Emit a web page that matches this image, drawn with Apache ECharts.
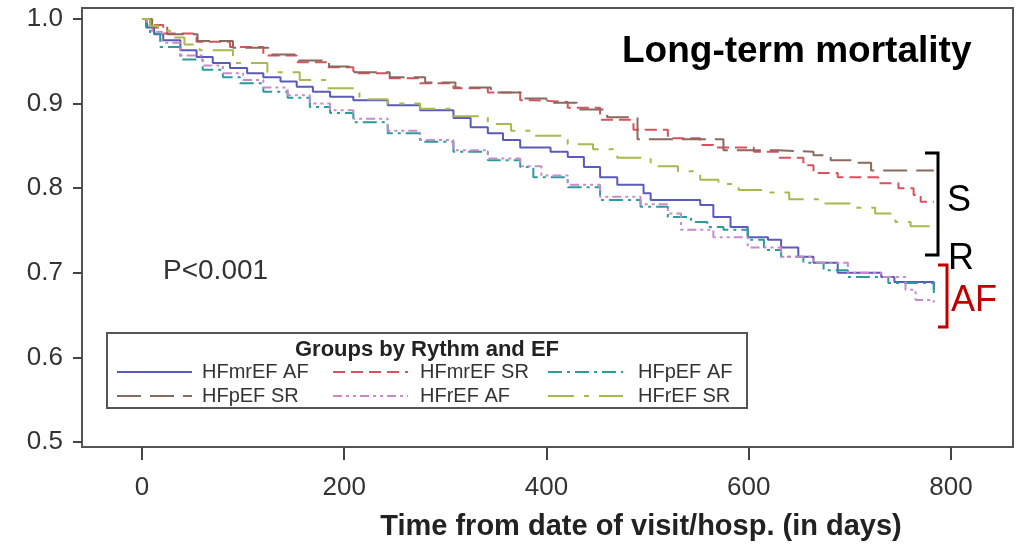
<!DOCTYPE html>
<html>
<head>
<meta charset="utf-8">
<script src="https://cdn.jsdelivr.net/npm/echarts@6/dist/echarts.min.js"></script>
<style>html,body{margin:0;padding:0;background:#fff;}#c{width:1025px;height:548px;}</style>
</head>
<body>
<div id="c"></div>
<script>
// ---- data (time in days, survival probability) ----
const xTicks = [0, 200, 400, 600, 800];
const yTicks = [0.5, 0.6, 0.7, 0.8, 0.9, 1.0];
const seriesNames = ['HFmrEF AF', 'HFmrEF SR', 'HFpEF AF', 'HFpEF SR', 'HFrEF AF', 'HFrEF SR'];

const hfmrefAF = [[0,1.0],[5,0.99],[12,0.982],[21,0.975],[38,0.963],[54,0.955],[70,0.948],[87,0.942],[104,0.936],[120,0.931],[137,0.926],[153,0.920],[169,0.914],[186,0.908],[209,0.904],[243,0.898],[275,0.892],[308,0.883],[325,0.872],[342,0.865],[357,0.857],[374,0.848],[404,0.843],[421,0.837],[437,0.825],[453,0.813],[470,0.804],[496,0.794],[503,0.786],[552,0.780],[565,0.766],[582,0.754],[599,0.742],[619,0.739],[632,0.730],[649,0.719],[664,0.712],[688,0.700],[731,0.695],[744,0.689],[783,0.680]];
const hfmrefSR = [[0,1.0],[8,0.993],[21,0.983],[54,0.973],[87,0.967],[120,0.957],[153,0.949],[183,0.943],[209,0.936],[243,0.930],[275,0.924],[308,0.918],[342,0.913],[374,0.904],[387,0.902],[421,0.895],[453,0.881],[486,0.869],[520,0.859],[552,0.851],[565,0.848],[605,0.843],[629,0.836],[654,0.827],[664,0.818],[688,0.813],[728,0.806],[748,0.800],[763,0.792],[770,0.784],[783,0.784]];
const hfpefAF = [[0,1.0],[4,0.99],[8,0.983],[18,0.967],[38,0.952],[60,0.940],[80,0.931],[97,0.924],[120,0.914],[144,0.907],[166,0.896],[186,0.889],[209,0.878],[243,0.865],[275,0.855],[308,0.843],[342,0.833],[374,0.825],[387,0.813],[421,0.801],[453,0.786],[493,0.778],[520,0.766],[543,0.760],[559,0.754],[575,0.751],[599,0.739],[615,0.727],[632,0.719],[654,0.712],[674,0.703],[698,0.695],[738,0.688],[783,0.676]];
const hfpefSR = [[0,1.0],[10,0.990],[25,0.982],[55,0.974],[90,0.966],[125,0.958],[155,0.951],[185,0.944],[210,0.937],[245,0.931],[280,0.925],[310,0.919],[345,0.913],[375,0.906],[400,0.901],[430,0.893],[460,0.884],[490,0.858],[575,0.845],[629,0.843],[664,0.839],[681,0.833],[708,0.830],[721,0.821],[783,0.821]];
const hfrefAF = [[0,1.0],[5,0.992],[10,0.985],[20,0.972],[38,0.957],[60,0.945],[80,0.936],[100,0.928],[120,0.919],[144,0.910],[166,0.900],[186,0.892],[209,0.882],[243,0.868],[275,0.857],[308,0.845],[342,0.835],[374,0.826],[395,0.815],[421,0.804],[453,0.790],[493,0.781],[520,0.770],[533,0.751],[565,0.742],[599,0.730],[632,0.719],[664,0.712],[698,0.700],[731,0.695],[755,0.680],[765,0.668],[783,0.665]];
const hfrefSR = [[0,1.0],[8,0.992],[16,0.986],[28,0.978],[42,0.970],[57,0.963],[90,0.948],[124,0.937],[156,0.928],[183,0.918],[215,0.905],[243,0.900],[275,0.894],[308,0.885],[342,0.876],[365,0.868],[387,0.862],[421,0.852],[446,0.846],[470,0.836],[503,0.826],[530,0.820],[552,0.810],[570,0.805],[590,0.798],[615,0.795],[640,0.787],[670,0.782],[700,0.777],[725,0.770],[745,0.760],[760,0.755],[783,0.748]];

const seriesData = [hfmrefAF, hfmrefSR, hfpefAF, hfpefSR, hfrefAF, hfrefSR];
const seriesColors = ['#5a5ab8', '#d9505e', '#2a9c9c', '#8a6a5c', '#c98ac9', '#a8b84e'];
const seriesDash = ['solid', [12, 6], [14, 5, 3, 5], [24, 9], [9, 4, 3, 4, 3, 4], [26, 10, 5, 10]];

const chart = echarts.init(document.getElementById('c'), null, {renderer: 'canvas'});

const FONT = '"Liberation Sans", Arial, sans-serif';
const legendCols = [[117, 202], [333, 420], [548, 638]];
const legendRows = [372, 396];
const legendGraphics = [];
seriesNames.forEach((name, i) => {
  const col = legendCols[i % 3];
  const row = legendRows[Math.floor(i / 3)];
  legendGraphics.push({
    type: 'line', z: 6, shape: {x1: col[0], y1: row, x2: col[0] + 75, y2: row},
    style: {stroke: seriesColors[i], lineWidth: 2, lineDash: seriesDash[i] === 'solid' ? null : seriesDash[i]}
  });
  legendGraphics.push({
    type: 'text', z: 6, x: col[1], y: row,
    style: {text: name, fill: '#333', font: '20px ' + FONT, verticalAlign: 'middle'}
  });
});

const option = {
  backgroundColor: '#ffffff',
  animation: false,
  grid: {left: 82, right: 12, top: 8, bottom: 101, containLabel: false},
  xAxis: {
    type: 'value', min: -59.3, max: 861.3,
    axisLine: {show: true, onZero: false, lineStyle: {color: '#555', width: 2}},
    axisTick: {show: true, length: 13, customValues: xTicks, lineStyle: {color: '#444', width: 2}},
    axisLabel: {color: '#333', fontSize: 26, fontFamily: FONT, margin: 28,
      customValues: xTicks, formatter: v => String(v)},
    splitLine: {show: false}
  },
  yAxis: {
    type: 'value', min: 0.4941, max: 1.013,
    axisLine: {show: true, onZero: false, lineStyle: {color: '#555', width: 2}},
    axisTick: {show: true, length: 9, customValues: yTicks, lineStyle: {color: '#444', width: 2}},
    axisLabel: {color: '#333', fontSize: 26, fontFamily: FONT, margin: 19,
      customValues: yTicks, formatter: v => v.toFixed(1)},
    splitLine: {show: false}
  },
  series: seriesData.map((d, i) => ({
    name: seriesNames[i], type: 'line', step: 'end', data: d, showSymbol: false,
    lineStyle: {color: seriesColors[i], width: 2, type: seriesDash[i]},
    itemStyle: {color: seriesColors[i]}, z: 2
  })),
  graphic: [
    {type: 'rect', shape: {x: 82, y: 8, width: 931, height: 439},
      style: {fill: null, stroke: '#555', lineWidth: 2}, silent: true, z: 0},
    {type: 'text', x: 622, y: 52, style: {text: 'Long-term mortality', fill: '#000',
      font: 'bold 37px ' + FONT, verticalAlign: 'middle'}},
    {type: 'text', x: 163, y: 271, style: {text: 'P<0.001', fill: '#333',
      font: '28px ' + FONT, verticalAlign: 'middle'}},
    {type: 'text', x: 641, y: 527, style: {text: 'Time from date of visit/hosp. (in days)', fill: '#222',
      font: 'bold 29px ' + FONT, align: 'center', verticalAlign: 'middle'}},
    {type: 'rect', shape: {x: 107, y: 333, width: 640, height: 75},
      style: {fill: '#fff', stroke: '#555', lineWidth: 2}, z: 5},
    {type: 'text', x: 427, y: 350, z: 6, style: {text: 'Groups by Rythm and EF', fill: '#222',
      font: 'bold 22px ' + FONT, align: 'center', verticalAlign: 'middle'}},
    ...legendGraphics,
    {type: 'polyline', shape: {points: [[925, 153], [938, 153], [938, 255], [925, 255]]},
      style: {stroke: '#000', lineWidth: 3, fill: null}},
    {type: 'polyline', shape: {points: [[938, 265], [947, 265], [947, 327], [938, 327]]},
      style: {stroke: '#c00000', lineWidth: 3, fill: null}},
    {type: 'text', x: 947, y: 201, style: {text: 'S', fill: '#000', font: '36px ' + FONT, verticalAlign: 'middle'}},
    {type: 'text', x: 948, y: 259, style: {text: 'R', fill: '#000', font: '36px ' + FONT, verticalAlign: 'middle'}},
    {type: 'text', x: 951, y: 301, style: {text: 'AF', fill: '#c00000', font: '36px ' + FONT, verticalAlign: 'middle'}}
  ]
};
chart.setOption(option);
</script>
</body>
</html>
